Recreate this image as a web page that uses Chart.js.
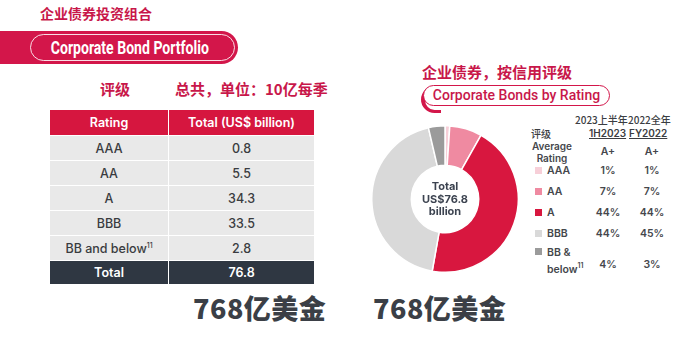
<!DOCTYPE html>
<html>
<head>
<meta charset="utf-8">
<script src="https://cdn.jsdelivr.net/npm/chart.js@4/dist/chart.umd.min.js"></script>
<style>
  html, body { margin: 0; padding: 0; background: #fff; }
  body { width: 692px; height: 342px; position: relative; overflow: hidden; font-family: Inter, "Noto Sans", sans-serif; color: #3d3f44; }
  .abs { position: absolute; }
  .cjk { font-family: "Noto Sans CJK SC", sans-serif; font-weight: 700; }
  .red { color: #c8174a; }

  .banner { left: 0; top: 31px; width: 238px; height: 33px; background: #d3164a; border-radius: 0 17px 17px 0; }
  .banner .pill { position: absolute; left: 30px; top: 3px; width: 203px; height: 25px; border: 1px solid rgba(255,255,255,0.85); border-radius: 14px; }
  .banner .txt { position: absolute; left: 0; top: 0; width: 238px; height: 33px; line-height: 33px; text-align: center; color: #fff; font-family: Roboto, sans-serif; font-weight: 700; font-size: 19px; }
  .banner .txt span { display: inline-block; transform: scaleX(0.74); transform-origin: 50% 50%; margin-left: 22px; }

  table.bonds { position: absolute; left: 50px; top: 110px; width: 264px; border-collapse: collapse; font-size: 12.5px; }
  table.bonds td, table.bonds th { text-align: center; padding: 0; height: 24px; border-bottom: 1px solid #fff; }
  table.bonds td + td, table.bonds th + th { border-left: 1px solid #fff; }
  table.bonds th { background: #d6163f; color: #fff; font-weight: 600; height: 25px; }
  table.bonds td { background: #e9e9e9; color: #3a3c40; font-weight: 500; }
  table.bonds tr.total td { background: #2f3742; color: #fff; font-weight: 600; height: 23px; }
  sup { font-size: 7px; vertical-align: 5px; }

  .big { font-family: "Noto Sans CJK SC", sans-serif; font-weight: 900; font-size: 27px; color: #3b3f46; letter-spacing: 0.5px; }

  .pill2 { left: 423px; top: 85px; width: 185px; height: 19px; border: 1.5px solid #d3164a; border-radius: 11px; background: #fff; }
  .pill2 .txt { position: absolute; left: 0; top: 0; width: 100%; line-height: 19px; text-align: center; color: #c8174a; font-family: Roboto, sans-serif; font-size: 14px; font-weight: 500; }
  .swoosh { left: 421px; top: 86px; width: 16px; height: 24px; border-left: 4px solid #d3164a; border-bottom: 3px solid #d3164a; border-radius: 14px 0 0 14px; }

  .center { left: 405px; width: 80px; text-align: center; font-size: 11px; font-weight: 700; line-height: 12px; color: #3c4350; }

  .leg { font-size: 10.5px; font-weight: 600; color: #45474c; }
  .hd { font-size: 10px; font-weight: 500; color: #3b3d42; line-height: 11px; }
  .hd u { text-underline-offset: 1px; }
  .sw { width: 7px; height: 7px; }
  .val { width: 36px; text-align: center; font-size: 10.5px; font-weight: 600; color: #45474c; }
</style>
</head>
<body>
<div class="abs cjk red" style="left:40px; top:3px; font-size:14px;">企业债券投资组合</div>
<div class="abs banner"><div class="pill"></div><div class="txt"><span>Corporate Bond Portfolio</span></div></div>

<div class="abs cjk red" style="left:100px; top:78px; font-size:15px;">评级</div>
<div class="abs cjk red" style="left:175px; top:78px; font-size:15px;">总共，单位：10亿每季</div>

<table class="bonds" id="bonds"></table>

<div class="abs big" style="left:193px; top:288px;">768亿美金</div>
<div class="abs big" style="left:373px; top:288px;">768亿美金</div>

<div class="abs cjk red" style="left:422px; top:61px; font-size:15px;">企业债券，按信用评级</div>
<div class="abs swoosh"></div>
<div class="abs pill2"><div class="txt">Corporate Bonds by Rating</div></div>

<div class="abs" style="left:371px; top:125px; width:148px; height:148px;"><canvas id="donut"></canvas></div>
<div class="abs center" style="top:180px;">Total</div>
<div class="abs center" style="top:192.5px;">US$76.8</div>
<div class="abs center" style="top:205px;">billion</div>

<div id="legend"></div>

<script>
// Corporate bond holdings by rating, US$ billion (1H2023)
const ratings = ["AAA", "AA", "A", "BBB", "BB and below"];
const legendNames = ["AAA", "AA", "A", "BBB", "BB &<br>below<sup>11</sup>"];
const totals = [0.8, 5.5, 34.3, 33.5, 2.8];
const grandTotal = 76.8;
const share1H2023 = ["1%", "7%", "44%", "44%", "4%"];
const shareFY2022 = ["1%", "7%", "44%", "45%", "3%"];
const avgRating = ["A+", "A+"];
const sliceColors = ["#f7cfd8", "#ef8aa1", "#d8173f", "#d9d9d9", "#9b9b9b"];

// table on the left
const table = document.getElementById("bonds");
let html = "<tr><th>Rating</th><th>Total (US$ billion)</th></tr>";
ratings.forEach((r, i) => {
  const name = r === "BB and below" ? "BB and below<sup>11</sup>" : r;
  html += `<tr><td>${name}</td><td>${totals[i].toFixed(1)}</td></tr>`;
});
html += `<tr class="total"><td>Total</td><td>${grandTotal.toFixed(1)}</td></tr>`;
table.innerHTML = html;

// legend table on the right
const leg = document.getElementById("legend");
let lh = "";
lh += '<div class="abs hd cjk" style="left:575px; top:114px; font-weight:500;">2023上半年</div>';
lh += '<div class="abs hd cjk" style="left:628px; top:114px; font-weight:500;">2022全年</div>';
lh += '<div class="abs hd cjk" style="left:531px; top:128px; font-weight:500;">评级</div>';
lh += '<div class="abs hd" style="left:589px; top:128px; font-weight:600;"><u>1H2023</u></div>';
lh += '<div class="abs hd" style="left:629px; top:128px; font-weight:600;"><u>FY2022</u></div>';
lh += '<div class="abs leg" style="left:528px; top:140px; width:48px; text-align:center; line-height:12px; font-size:10px;">Average<br>Rating</div>';
lh += `<div class="abs val" style="left:590px; top:145px;">${avgRating[0]}</div>`;
lh += `<div class="abs val" style="left:634px; top:145px;">${avgRating[1]}</div>`;
const rowY = [171, 192, 213, 234, 265];
legendNames.forEach((n, i) => {
  const y = rowY[i];
  const top = i === 4 ? 246 : y - 7;
  lh += `<div class="abs sw" style="left:535px; top:${(i === 4 ? 252 : y) - 4}px; background:${sliceColors[i]};"></div>`;
  lh += `<div class="abs leg" style="left:547px; top:${top}px; line-height:13px;">${n}</div>`;
  lh += `<div class="abs val" style="left:590px; top:${y - 7}px;">${share1H2023[i]}</div>`;
  lh += `<div class="abs val" style="left:634px; top:${y - 7}px;">${shareFY2022[i]}</div>`;
});
leg.innerHTML = lh;

new Chart(document.getElementById("donut"), {
  type: "doughnut",
  data: {
    labels: ratings,
    datasets: [
      {
        data: totals,
        backgroundColor: sliceColors,
        borderColor: "#ffffff",
        borderWidth: 1.5,
      },
    ],
  },
  options: {
    responsive: true,
    maintainAspectRatio: false,
    animation: false,
    cutout: "46%",
    layout: { padding: 0 },
    plugins: {
      legend: { display: false },
      tooltip: { enabled: false },
    },
  },
});
</script>
</body>
</html>
